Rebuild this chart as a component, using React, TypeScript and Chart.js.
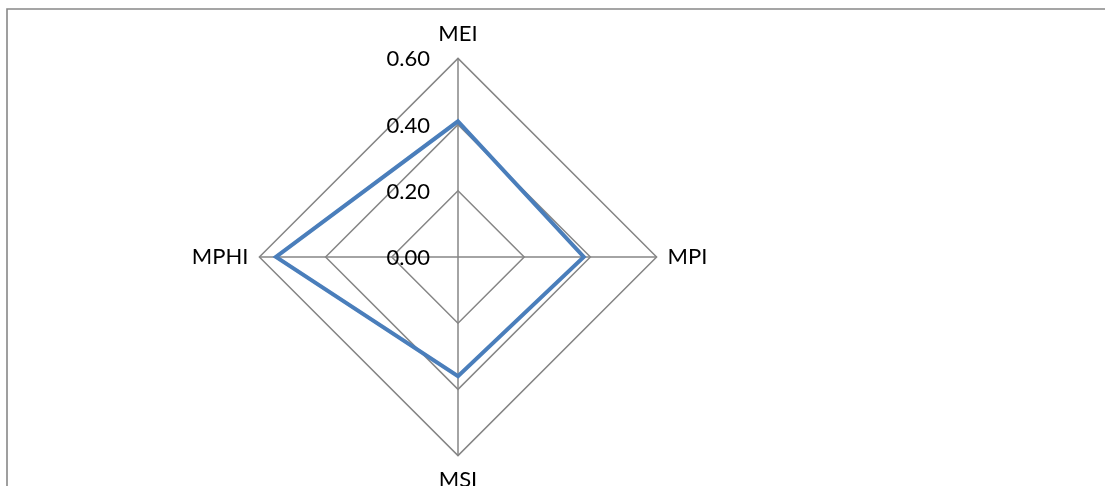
import React, { useEffect, useRef } from "react";
import { Chart, registerables } from "chart.js";

Chart.register(...registerables);

// Radar axes, series values and radial tick values
const categories: string[] = ["MEI", "MPI", "MSI", "MPHI"];
const seriesValues: number[] = [0.41, 0.38, 0.36, 0.55];
const tickValues: number[] = [0, 0.2, 0.4, 0.6];

const FONT_FAMILY = "Lato, 'Open Sans', 'DejaVu Sans', sans-serif";
const GRID_COLOR = "#868686";
const LINE_COLOR = "#4a7ebb";

// Outer frame of the chart area (only its top and left edges fall inside the view)
const framePlugin = {
  id: "frame",
  beforeDraw(chart: Chart) {
    const ctx = chart.ctx;
    ctx.save();
    ctx.strokeStyle = "#888888";
    ctx.lineWidth = 1.6;
    ctx.beginPath();
    ctx.moveTo(7, chart.height + 10);
    ctx.lineTo(7, 9);
    ctx.lineTo(chart.width + 10, 9);
    ctx.stroke();
    ctx.restore();
  },
};

// Radial tick labels placed just left of the vertical axis
const tickLabelPlugin = {
  id: "tickLabels",
  afterDatasetsDraw(chart: Chart) {
    const scale: any = chart.scales.r;
    const ctx = chart.ctx;
    ctx.save();
    ctx.font = `22px ${FONT_FAMILY}`;
    ctx.fillStyle = "#000000";
    ctx.textAlign = "right";
    ctx.textBaseline = "middle";
    for (const v of tickValues) {
      const y = scale.yCenter - scale.getDistanceFromCenterForValue(v);
      ctx.fillText(v.toFixed(2), scale.xCenter - 28, y + 1);
    }
    ctx.restore();
  },
};

export default function App() {
  const canvasRef = useRef<HTMLCanvasElement | null>(null);

  useEffect(() => {
    const canvas = canvasRef.current;
    if (!canvas) return;
    const chart = new Chart(canvas, {
      type: "radar",
      data: {
        labels: categories,
        datasets: [
          {
            data: seriesValues,
            borderColor: LINE_COLOR,
            borderWidth: 4,
            fill: false,
            pointRadius: 0,
            pointHoverRadius: 0,
            tension: 0,
            borderJoinStyle: "miter",
          },
        ],
      },
      options: {
        responsive: false,
        maintainAspectRatio: false,
        animation: false,
        layout: { padding: { left: 108, right: 297, top: 21, bottom: 0 } },
        plugins: {
          legend: { display: false },
          tooltip: { enabled: false },
          title: { display: false },
        },
        scales: {
          r: {
            min: 0,
            max: 0.6,
            ticks: { display: false, stepSize: 0.2 },
            grid: { color: GRID_COLOR, lineWidth: 1.5, circular: false },
            angleLines: { color: GRID_COLOR, lineWidth: 1.5 },
            pointLabels: {
              color: "#000000",
              padding: 11,
              font: { family: FONT_FAMILY, size: 22, lineHeight: 1.2 },
            },
          },
        },
      },
      plugins: [framePlugin, tickLabelPlugin],
    });
    return () => chart.destroy();
  }, []);

  return (
    <div
      style={{
        position: "fixed",
        left: 0,
        top: 0,
        width: 1105,
        height: 486,
        overflow: "hidden",
        background: "#ffffff",
      }}
    >
      <canvas ref={canvasRef} width={1105} height={493} style={{ display: "block" }} />
    </div>
  );
}
